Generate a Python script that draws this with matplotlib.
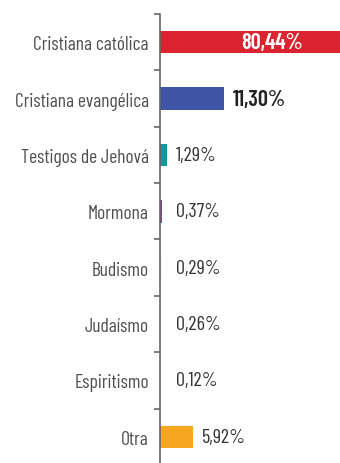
import matplotlib.pyplot as plt
from matplotlib import font_manager

# religiones y porcentajes
religiones = ['Cristiana católica', 'Cristiana evangélica', 'Testigos de Jehová',
              'Mormona', 'Budismo', 'Judaísmo', 'Espiritismo', 'Otra']
porcentajes = [80.44, 11.30, 1.29, 0.37, 0.29, 0.26, 0.12, 5.92]
etiquetas = ['80,44%', '11,30%', '1,29%', '0,37%', '0,29%', '0,26%', '0,12%', '5,92%']
colores = ['#da2530', '#3f55a6', '#16989f', '#c81f8a', '#f3f3f3', '#f3f3f3', '#f3f3f3', '#f6a71f']

# fuente condensada, la primera que esté instalada
instaladas = set(f.name for f in font_manager.fontManager.ttflist)
candidatas = ['Barlow Condensed', 'Fira Sans Extra Condensed', 'PT Sans Narrow',
              'Roboto Condensed', 'Liberation Sans Narrow']
fam = [c for c in candidatas if c in instaladas][:1] + ['DejaVu Sans']
plt.rcParams['font.family'] = fam

fig = plt.figure(figsize=(3.4, 4.64), dpi=100)
ax = fig.add_axes([0.4706, -0.0043, 0.5294, 0.9720])

y = list(range(len(religiones)))
ax.barh(y, porcentajes, height=0.4, color=colores, left=0)

xmax = 32
ax.set_xlim(0, xmax)
ax.set_ylim(7.5, -0.5)

for i, (v, t) in enumerate(zip(porcentajes, etiquetas)):
    if v > xmax:
        # barra recortada: el valor va dentro, en blanco
        ax.text(xmax * 0.62, i, t, color='white', fontsize=16, fontweight='semibold',
                ha='center', va='center')
    elif i == 1:
        ax.text(v + 1.6, i, t, color='#222222', fontsize=16, fontweight='semibold',
                ha='left', va='center')
    else:
        ax.text(max(v, 1.29) + 1.6, i, t, color='#333333', fontsize=14.5,
                ha='left', va='center')

for s in ['top', 'right', 'bottom']:
    ax.spines[s].set_visible(False)
ax.spines['left'].set_color('#666666')
ax.spines['left'].set_linewidth(1.2)
ax.set_xticks([])

ax.set_yticks(y)
ax.set_yticklabels(religiones, fontsize=14, color='#505050')
ax.tick_params(axis='y', which='major', length=0, pad=8)
ax.set_yticks([i - 0.5 for i in range(len(religiones) + 1)], minor=True)
ax.tick_params(axis='y', which='minor', length=4, width=1.2, color='#666666', direction='out')

fig.savefig('out.png', dpi=100)
